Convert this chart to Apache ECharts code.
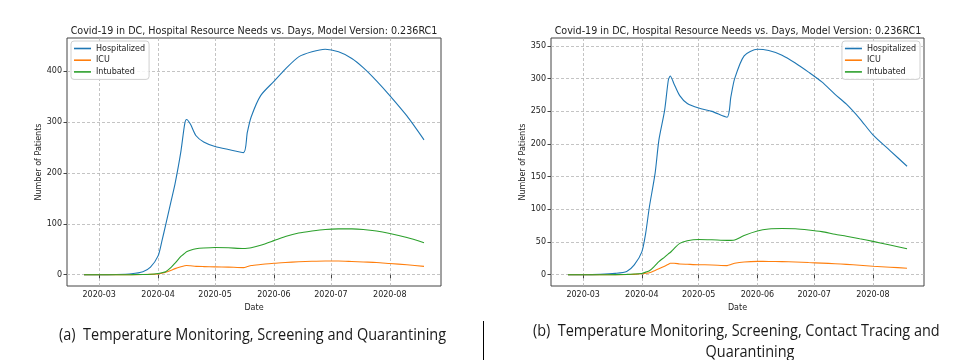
<!DOCTYPE html>
<html>
<head>
<meta charset="utf-8">
<script src="https://cdn.jsdelivr.net/npm/echarts@6/dist/echarts.min.js"></script>
<style>
html,body{margin:0;padding:0;background:#fff;}
#c{width:963px;height:360px;}
</style>
</head>
<body>
<div id="c"></div>
<script>
// ---- data ----
const titleText = 'Covid-19 in DC, Hospital Resource Needs vs. Days, Model Version: 0.236RC1';
const seriesNames = ['Hospitalized', 'ICU', 'Intubated'];
const monthTicks = ['2020-03-01', '2020-04-01', '2020-05-01', '2020-06-01', '2020-07-01', '2020-08-01'];
const leftYTicks = [0, 100, 200, 300, 400];
const rightYTicks = [0, 50, 100, 150, 200, 250, 300, 350];

const dates = ['2020-02-22','2020-03-01','2020-03-10','2020-03-18','2020-03-24','2020-03-28',
  '2020-04-01','2020-04-03','2020-04-05','2020-04-08','2020-04-10','2020-04-13','2020-04-15',
  '2020-04-16','2020-04-18','2020-04-21','2020-04-25','2020-05-01','2020-05-08','2020-05-16',
  '2020-05-18','2020-05-20','2020-05-25','2020-06-01','2020-06-07','2020-06-14','2020-06-21',
  '2020-06-28','2020-07-05','2020-07-12','2020-07-18','2020-07-25','2020-08-01','2020-08-10','2020-08-19'];

const leftHospitalized = [0,0,0.5,2,6,15,37,66,98,147,180,242,296,305,296,273,261,252,246,240,
  280,310,352,380,404,428,438,443,438,425,407,381,352,312,265];
const leftICU = [0,0,0,0.1,0.3,0.6,1.5,3,5,9,12,15.5,17.5,18,17.5,16.5,16,15.5,15,14,
  16,18,20,22.5,24,25.5,26.5,27,27,26,25,24,22,19.5,16.5];
const leftIntubated = [0,0,0,0.2,0.5,1,2.5,4,6,15,23,36,42,45,48,51,52.5,53.5,53,51.5,
  52,53,58,67,75,82,86,89,90,90,89,86,81,73,63];

const rightHospitalized = [0,0,0.5,2,5,15,35,63,104,155,206,251,298,304,292,274,262,255,250,241,
  272,300,335,345,343,336,324,310,295,276,261,239,214,190,166];
const rightICU = [0,0,0,0.1,0.3,0.6,1.5,2.3,3,6.5,9,13,16,17.5,17.5,16.5,16,15.3,15,14,
  15.5,17.5,19.5,20.4,20.3,20,19.5,18.6,17.8,16.8,15.8,14.5,13,11.5,10];
const rightIntubated = [0,0,0,0.2,0.5,1,2,4,6,14,20,27,32,34,40,48,52,54,53.5,52.5,
  52.5,53,60,67,70,70.7,70.3,68.5,66,62,59,55,51,45.5,39.7];

const captionA = '(a)  Temperature Monitoring, Screening and Quarantining';
const captionB1 = '(b)  Temperature Monitoring, Screening, Contact Tracing and';
const captionB2 = 'Quarantining';

// ---- build ----
const colors = ['#1f77b4', '#ff7f0e', '#2ca02c'];
const t = s => Date.parse(s);
const span = t(dates[dates.length-1]) - t(dates[0]);
const xMin = t(dates[0]) - span * 0.05;
const xMax = t(dates[dates.length-1]) + span * 0.05;
const monthVals = monthTicks.map(t);
const fmtMonth = v => { const d = new Date(v); return d.getUTCFullYear() + '-' + String(d.getUTCMonth()+1).padStart(2,'0'); };
const pairs = arr => dates.map((d, i) => [t(d), arr[i]]);
const margin = arr => { const mx = Math.max(...arr); return [-0.05*mx, mx*1.05]; };
const leftExt = margin(leftHospitalized);
const rightExt = margin(rightHospitalized);

const FONT = 'DejaVu Sans';
const frame = '#444';
const grids = [
  {left: 67, top: 38, width: 374, height: 248, show: true, borderColor: frame, borderWidth: 1, backgroundColor: '#fff'},
  {left: 551, top: 38, width: 373, height: 248, show: true, borderColor: frame, borderWidth: 1, backgroundColor: '#fff'}
];
const splitLine = {show: true, lineStyle: {color: '#b5b5b5', width: 0.8, type: [3, 2]}};
function xAxis(gi) {
  return {
    type: 'value', gridIndex: gi, min: xMin, max: xMax,
    name: 'Date', nameLocation: 'middle', nameGap: 12,
    nameTextStyle: {fontFamily: FONT, fontSize: 8, color: '#222'},
    axisLine: {show: false},
    axisTick: {show: true, inside: false, length: 3.5, lineStyle: {color: frame}, customValues: monthVals},
    axisLabel: {customValues: monthVals, formatter: fmtMonth, fontFamily: FONT, fontSize: 8, color: '#222', margin: 5},
    splitLine: splitLine
  };
}
function yAxis(gi, ext, ticks, gap) {
  return {
    type: 'value', gridIndex: gi, min: ext[0], max: ext[1],
    name: 'Number of Patients', nameLocation: 'middle', nameGap: gap, nameRotate: 90,
    nameTextStyle: {fontFamily: FONT, fontSize: 8, color: '#222'},
    axisLine: {show: false},
    axisTick: {show: true, length: 3.5, lineStyle: {color: frame}, customValues: ticks},
    axisLabel: {customValues: ticks, fontFamily: FONT, fontSize: 8, color: '#222', margin: 5},
    splitLine: splitLine
  };
}
function mkSeries(gi, arr, ci) {
  return {
    type: 'line', name: seriesNames[ci], xAxisIndex: gi, yAxisIndex: gi,
    data: pairs(arr), showSymbol: false, smooth: 0.25,
    lineStyle: {width: 1.1, color: colors[ci]}, itemStyle: {color: colors[ci]},
    silent: true, animation: false, z: 3
  };
}
const legendBase = {
  orient: 'vertical', top: 41, data: seriesNames, icon: 'rect', itemWidth: 17, itemHeight: 1.6,
  itemGap: 1.7, padding: [2.5, 4, 2.5, 3],
  textStyle: {fontFamily: FONT, fontSize: 8, color: '#222', lineHeight: 10},
  backgroundColor: 'rgba(255,255,255,0.85)', borderColor: '#d0d0d0', borderWidth: 1, borderRadius: 3,
  selectedMode: false
};
const CAPFONT = "'Open Sans', sans-serif";
const capStyle = {fontFamily: CAPFONT, fontSize: 16, fill: '#1a1a1a', align: 'center', verticalAlign: 'middle'};
const option = {
  animation: false,
  backgroundColor: '#fff',
  color: colors,
  title: [
    {text: titleText, left: 254, top: 26, textAlign: 'center', padding: 0,
     textStyle: {fontFamily: FONT, fontSize: 9.6, fontWeight: 'normal', color: '#222'}},
    {text: titleText, left: 738, top: 26, textAlign: 'center', padding: 0,
     textStyle: {fontFamily: FONT, fontSize: 9.6, fontWeight: 'normal', color: '#222'}}
  ],
  legend: [
    Object.assign({}, legendBase, {left: 71}),
    Object.assign({}, legendBase, {right: 43})
  ],
  grid: grids,
  xAxis: [xAxis(0), xAxis(1)],
  yAxis: [yAxis(0, leftExt, leftYTicks, 20), yAxis(1, rightExt, rightYTicks, 22)],
  series: [
    mkSeries(0, leftHospitalized, 0), mkSeries(0, leftICU, 1), mkSeries(0, leftIntubated, 2),
    mkSeries(1, rightHospitalized, 0), mkSeries(1, rightICU, 1), mkSeries(1, rightIntubated, 2)
  ],
  graphic: [
    {type: 'text', x: 252.5, y: 335, scaleX: 0.905, style: Object.assign({text: captionA}, capStyle)},
    {type: 'text', x: 736.3, y: 331.5, scaleX: 0.903, style: Object.assign({text: captionB1}, capStyle)},
    {type: 'text', x: 750, y: 352, scaleX: 0.903, style: Object.assign({text: captionB2}, capStyle)},
    {type: 'line', shape: {x1: 483.5, y1: 321, x2: 483.5, y2: 360}, style: {stroke: '#000', lineWidth: 1}}
  ]
};
const chart = echarts.init(document.getElementById('c'), null, {renderer: 'canvas'});
chart.setOption(option);
</script>
</body>
</html>
